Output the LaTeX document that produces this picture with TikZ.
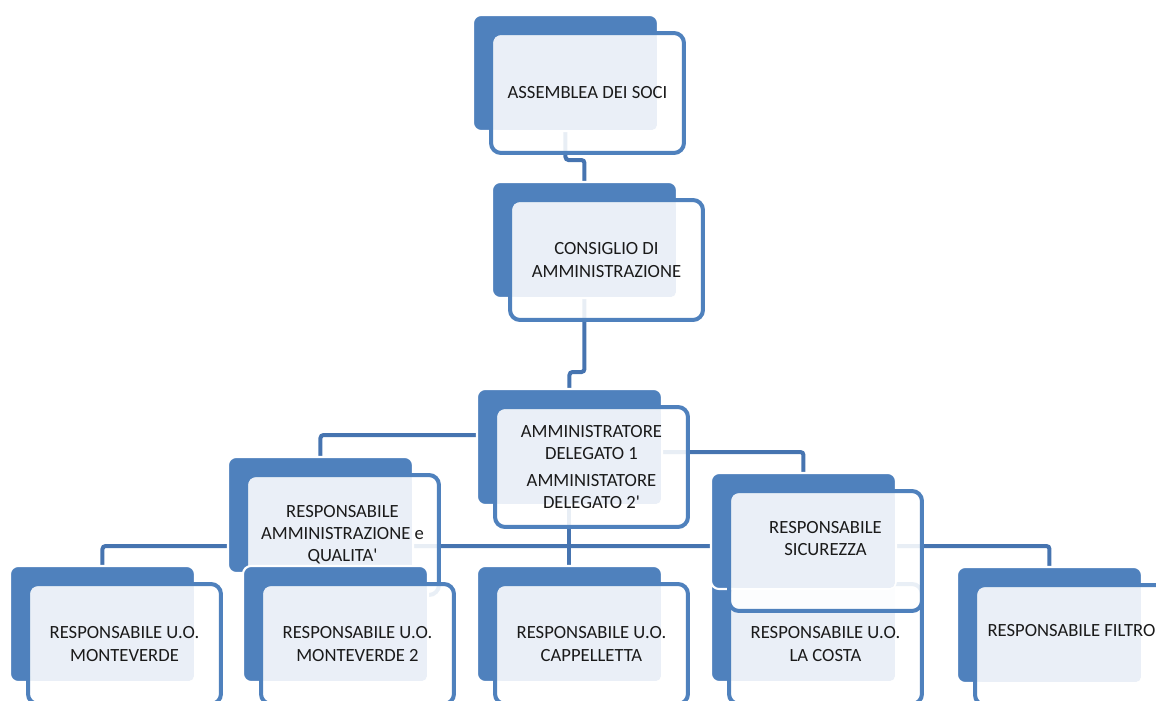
\documentclass[tikz,border=0pt]{standalone}
\usepackage{fontspec}
\setmainfont{Carlito}
\usetikzlibrary{backgrounds}

\definecolor{cardblue}{HTML}{4F81BD}
\definecolor{linkblue}{HTML}{4674B0}
\definecolor{paper}{HTML}{EAEFF7}
\definecolor{ink}{HTML}{1A1A1A}

% one org chart card: blue back, outlined front, text
\newcommand{\orgunit}[5][]{%
  \node[card] (#2) at (#3,#4) {};
  \node[cardframe] (#2-f) at (#3+18,#4+18) {};
  \fill[paper, rounded corners=0.1cm] ([shift={(0.06cm,-0.06cm)}]#2-f.north west) rectangle ([shift={(-0.6pt,0.6pt)}]#2.south east);
  \node[cardtext,#1] at (#2-f.center) {#5};
}

\begin{document}
\begin{tikzpicture}[x=0.02cm, y=-0.02cm,
    card/.style={draw=white, line width=1.2pt, fill=cardblue, rounded corners=0.16cm,
      minimum width=3.7cm, minimum height=2.32cm, anchor=north west, inner sep=0pt, outer sep=0pt},
    cardframe/.style={draw=cardblue, line width=0.08cm, fill=white, fill opacity=0.88,
      rounded corners=0.2cm, minimum width=3.86cm, minimum height=2.4cm,
      anchor=north west, inner sep=0pt, outer sep=0pt},
    cardtext/.style={font=\fontsize{10.6}{12.6}\selectfont, text=ink, align=center, inner sep=0pt},
    conn/.style={draw=linkblue, line width=0.08cm, rounded corners=0.06cm}]
  \useasboundingbox (0,0) rectangle (1156,700);
  \clip (0,0) rectangle (1156,700);

  \orgunit{assemblea}{473}{15}{ASSEMBLEA DEI SOCI}
  \orgunit{consiglio}{492}{182}{CONSIGLIO DI\\AMMINISTRAZIONE}
  \orgunit{ammin}{477}{389}{AMMINISTRATORE\\DELEGATO 1\\[3pt]AMMINISTATORE\\DELEGATO 2\textquotesingle}
  \orgunit{respamm}{228}{457}{RESPONSABILE\\AMMINISTRAZIONE e\\QUALITA\textquotesingle}
  \orgunit{monteverde}{10}{566}{RESPONSABILE U.O.\\MONTEVERDE}
  \orgunit{monteverde2}{243}{566}{RESPONSABILE U.O.\\MONTEVERDE 2}
  \orgunit{cappelletta}{477}{566}{RESPONSABILE U.O.\\CAPPELLETTA}
  \orgunit{lacosta}{711}{566}{RESPONSABILE U.O.\\LA COSTA}
  \orgunit[yshift=0.25cm]{sicurezza}{711}{473}{RESPONSABILE\\SICUREZZA}
  \orgunit[yshift=0.28cm]{filtro}{957}{567}{RESPONSABILE FILTRO}

  % connectors
  \coordinate (bend1) at (0,160);
  \coordinate (bend2) at (0,372);
  \coordinate (bend3) at (0,435);
  \coordinate (bend4) at (0,452);
  \coordinate (bend5) at (0,546);
  \begin{pgfonlayer}{background}
    \draw[conn] (assemblea.south) -- (assemblea.south |- bend1) -| (consiglio.north);
    \draw[conn] (consiglio.south) -- (consiglio.south |- bend2) -| (ammin.north);
    \draw[conn] (ammin.west |- bend3) -| (respamm.north);
    \draw[conn] (ammin.east |- bend4) -| (sicurezza.north);
    \draw[conn] (ammin.south) -- (cappelletta.north);
    \draw[conn] (respamm.west |- bend5) -| (monteverde.north);
    \draw[conn] (respamm.east |- bend5) -| (lacosta.north);
    \draw[conn] (sicurezza.east |- bend5) -| (filtro.north);
  \end{pgfonlayer}
\end{tikzpicture}
\end{document}
